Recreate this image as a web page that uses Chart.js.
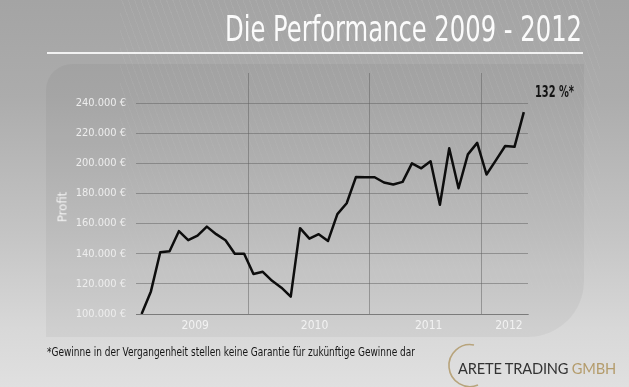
<!DOCTYPE html>
<html><head><meta charset="utf-8">
<script src="https://cdn.jsdelivr.net/npm/chart.js@4.4.1/dist/chart.umd.min.js"></script>
<style>
html,body{margin:0;padding:0;}
body{width:629px;height:387px;overflow:hidden;position:relative;
  background:linear-gradient(to bottom,#a4a4a4 0%,#acacac 25%,#c4c4c4 60%,#d8d8d8 85%,#e0e0e0 100%);
  font-family:"Liberation Sans Narrow","DejaVu Sans Condensed","Liberation Sans",sans-serif;}
#panel{position:absolute;left:46px;top:64px;width:538px;height:273px;border-radius:26px 0 56px 0;background:rgba(0,0,0,0.04);}
#stripes{position:absolute;left:120px;top:0;width:480px;height:330px;
  background:repeating-linear-gradient(70deg,rgba(255,255,255,0.06) 0px,rgba(255,255,255,0.06) 1px,rgba(255,255,255,0) 1px,rgba(255,255,255,0) 6px);
  -webkit-mask-image:linear-gradient(to bottom,rgba(0,0,0,1),rgba(0,0,0,0.2));}
#chartWrap{position:absolute;left:0;top:0;width:629px;height:387px;}
.fit{position:absolute;white-space:nowrap;transform-origin:0 0;display:inline-block;}
#title{left:225px;top:11px;font-size:36px;line-height:36px;color:#fbfbfb;}
#rule{position:absolute;left:47px;top:52px;width:536px;height:2px;background:rgba(255,255,255,0.85);}
#note{left:47px;top:346px;font-size:12px;line-height:12px;color:#161616;}
#pct{left:535px;top:85px;font-size:15px;line-height:15px;color:#141414;font-weight:bold;}
#profit{position:absolute;left:62px;top:207px;transform:translate(-50%,-50%) rotate(-90deg);font-size:13px;color:#f4f4f4;white-space:nowrap;}
#logo{left:458px;top:360px;font-size:16px;line-height:16px;font-family:"Lato","Open Sans",sans-serif;color:#333333;letter-spacing:-0.2px;}
#logo .g{color:#b49c6c;font-weight:normal;}
#arc{position:absolute;left:440px;top:340px;}
</style></head>
<body>
<div id="panel"></div>
<div id="stripes"></div>
<div id="rule"></div>
<div id="chartWrap"><canvas id="c" width="629" height="387"></canvas></div>
<div class="fit" id="title" data-w="357">Die Performance 2009 - 2012</div>
<div class="fit" id="pct" data-w="39">132 %*</div>
<div id="profit">Profit</div>
<div class="fit" id="note" data-w="368">*Gewinne in der Vergangenheit stellen keine Garantie für zukünftige Gewinne dar</div>
<svg id="arc" width="60" height="50" viewBox="0 0 60 50"><path d="M 34 5 A 21 21 0 1 0 38 45" fill="none" stroke="#b8a47c" stroke-width="1.6"/></svg>
<div class="fit" id="logo" data-w="158">ARETE TRADING <span class="g">GMBH</span></div>
<script>
// ---- data ----
const months = [
 '2009-01','2009-02','2009-03','2009-04','2009-05','2009-06','2009-07','2009-08','2009-09','2009-10','2009-11','2009-12',
 '2010-01','2010-02','2010-03','2010-04','2010-05','2010-06','2010-07','2010-08','2010-09','2010-10','2010-11','2010-12','2010-13',
 '2011-01','2011-02','2011-03','2011-04','2011-05','2011-06','2011-07','2011-08','2011-09','2011-10','2011-11','2011-12',
 '2012-01','2012-02','2012-03','2012-04','2012-05'];
const profit = [
 100000,115000,141000,141700,155000,149000,152000,158000,153000,149000,140000,140000,
 126500,128000,122000,117500,111500,157000,150000,153000,148500,166300,173500,191000,190800,
 190800,187300,186000,187700,200000,196700,201400,172500,210000,183500,206000,213600,
 192600,202000,211500,211000,234000];
const yearLabels = ['2009','2010','2011','2012'];
const yearLabelPos = [5.75, 18.55, 30.8, 39.4];
const yearBoundaries = [11.5, 24.5, 36.5];
const yTickValues = [100000,120000,140000,160000,180000,200000,220000,240000];

const FONT = '"Liberation Sans Narrow","DejaVu Sans Condensed","Liberation Sans",sans-serif';
const GRID = 'rgba(95,95,95,0.5)';
const fmtEuro = v => String(v).replace(/\B(?=(\d{3})+(?!\d))/g, '.') + ' €';

// interleave label ticks and boundary ticks: label, boundary, label, boundary, ...
const xTicks = [];
yearLabelPos.forEach((p, i) => {
  xTicks.push({value: p, label: yearLabels[i], grid: false});
  if (i < yearBoundaries.length) xTicks.push({value: yearBoundaries[i], label: '', grid: true});
});

new Chart(document.getElementById('c'), {
  type: 'line',
  data: {
    labels: months,
    datasets: [{
      label: 'Profit',
      data: profit.map((v, i) => ({x: i, y: v})),
      borderColor: '#0d0d0d',
      borderWidth: 2.5,
      pointRadius: 0,
      tension: 0,
      fill: false,
      borderJoinStyle: 'round'
    }]
  },
  options: {
    responsive: false,
    devicePixelRatio: 1,
    animation: false,
    layout: {padding: {left: 0, right: 101, top: 73, bottom: 49}},
    plugins: {legend: {display: false}, tooltip: {enabled: false}, title: {display: false}},
    scales: {
      x: {
        type: 'linear', min: -0.6, max: 41.45,
        afterBuildTicks: s => { s.ticks = xTicks.map(t => ({value: t.value})); },
        afterFit: s => { s.height = 24; },
        ticks: {autoSkip: false, maxRotation: 0, color: '#f2f2f2', padding: 5,
          font: {size: 12, family: FONT},
          callback: (v, i) => xTicks[i] ? xTicks[i].label : ''},
        grid: {drawTicks: false, lineWidth: 1,
          color: c => (xTicks[c.index] && xTicks[c.index].grid) ? GRID : 'rgba(0,0,0,0)'},
        border: {display: true, color: GRID}
      },
      y: {
        min: 100000, max: 260000,
        afterBuildTicks: s => { s.ticks = yTickValues.map(v => ({value: v})); },
        afterFit: s => { s.width = 136; },
        ticks: {color: '#ededed', padding: 10, font: {size: 11, family: FONT}, callback: v => fmtEuro(v)},
        grid: {drawTicks: false, color: GRID, lineWidth: 1},
        border: {display: false}
      }
    }
  }
});

function fitAll() {
  document.querySelectorAll('.fit').forEach(el => {
    el.style.transform = 'none';
    const w = el.getBoundingClientRect().width;
    const target = parseFloat(el.dataset.w);
    if (w > 0) el.style.transform = 'scaleX(' + (target / w) + ')';
  });
}
fitAll();
if (document.fonts && document.fonts.ready) document.fonts.ready.then(fitAll);
</script>
</body></html>
